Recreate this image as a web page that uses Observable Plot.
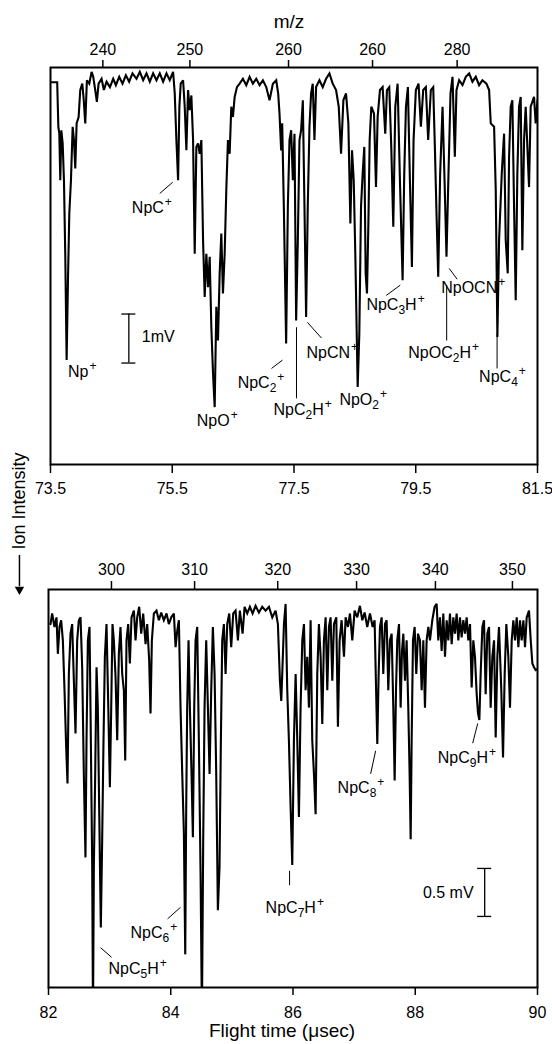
<!DOCTYPE html>
<html><head><meta charset="utf-8">
<script src="https://cdn.jsdelivr.net/npm/d3@7"></script>
<script src="https://cdn.jsdelivr.net/npm/@observablehq/plot@0.6"></script>
<style>
body{margin:0;background:#fff;}
#wrap{position:relative;width:552px;height:1044px;font-family:"Liberation Sans",Arial,Helvetica,sans-serif;background:#fff;}
.panel{position:absolute;left:0;}
#ylab{position:absolute;left:19px;top:501px;transform:translate(-50%,-50%) rotate(-90deg);font-size:18px;white-space:nowrap;color:#000;z-index:5;}
</style></head>
<body><div id="wrap"></div>
<script>
// ---------- Panel 1 (73.5 - 81.5 µs) ----------
const trace1Time = [73.52,73.61,73.629,73.645,73.661,73.678,73.700,73.721,73.743,73.765,73.787,73.809,73.836,73.864,73.885,73.907,73.929,73.962,73.989,74.022,74.044,74.071,74.098,74.137,74.175,74.202,74.235,74.262,74.290,74.339,74.377,74.421,74.476,74.530,74.574,74.629,74.683,74.738,74.792,74.847,74.913,74.967,75.022,75.077,75.131,75.186,75.241,75.295,75.350,75.405,75.459,75.514,75.541,75.568,75.596,75.617,75.639,75.678,75.705,75.732,75.760,75.787,75.814,75.842,75.869,75.896,75.924,75.951,75.978,76.006,76.033,76.060,76.088,76.115,76.142,76.170,76.197,76.224,76.251,76.279,76.306,76.333,76.361,76.388,76.415,76.443,76.470,76.497,76.525,76.563,76.607,76.661,76.716,76.771,76.825,76.880,76.935,76.989,77.044,77.098,77.153,77.208,77.240,77.262,77.289,77.306,77.333,77.371,77.399,77.426,77.453,77.481,77.508,77.535,77.563,77.590,77.617,77.645,77.672,77.699,77.726,77.754,77.781,77.808,77.836,77.863,77.918,77.972,78.027,78.082,78.136,78.191,78.235,78.273,78.311,78.355,78.393,78.426,78.453,78.481,78.508,78.546,78.573,78.601,78.628,78.655,78.677,78.699,78.721,78.743,78.770,78.814,78.847,78.874,78.912,78.956,78.999,79.027,79.065,79.098,79.131,79.164,79.202,79.240,79.284,79.311,79.339,79.371,79.404,79.437,79.464,79.502,79.546,79.584,79.623,79.666,79.704,79.748,79.787,79.814,79.841,79.869,79.901,79.940,79.973,80.005,80.038,80.071,80.104,80.142,80.169,80.213,80.268,80.322,80.377,80.431,80.486,80.541,80.595,80.661,80.705,80.732,80.787,80.814,80.841,80.869,80.913,80.951,80.978,81.011,81.033,81.060,81.087,81.115,81.142,81.169,81.197,81.224,81.251,81.279,81.306,81.361,81.388,81.443,81.470,81.50];
const trace1Signal = [0.00,0.00,0.91,1.05,2.00,0.98,1.25,2.00,3.56,5.67,4.04,2.68,2.00,0.91,1.18,1.76,0.84,0.71,0.16,0.03,0.33,0.84,-0.04,0.03,-0.21,-0.11,0.16,0.40,0.03,-0.07,0.16,-0.01,0.10,-0.07,0.06,-0.11,0.03,-0.14,-0.01,-0.18,-0.07,-0.21,-0.04,-0.18,-0.01,-0.18,-0.04,-0.18,-0.01,-0.18,-0.04,-0.21,0.23,1.18,2.00,0.50,0.03,-0.04,0.50,1.39,0.16,0.57,0.27,1.18,3.50,1.32,1.25,1.46,1.18,3.22,4.38,3.50,4.18,3.56,5.00,5.95,6.63,4.58,5.27,3.90,3.09,4.31,3.50,2.20,1.18,1.46,0.50,0.71,0.30,0.10,0.03,-0.07,0.06,-0.11,0.03,-0.07,0.06,-0.04,0.10,0.37,0.03,-0.04,0.23,0.64,1.39,0.84,2.54,5.33,2.54,1.18,0.98,2.00,1.05,4.86,3.22,1.18,0.98,0.37,2.54,4.79,2.54,0.91,0.23,0.03,1.18,0.10,-0.04,0.10,-0.07,-0.18,0.03,0.16,0.50,1.46,0.37,0.23,0.84,2.88,1.39,2.00,3.56,6.22,5.13,2.54,1.86,1.32,3.90,4.31,2.95,1.18,0.50,0.64,2.14,0.71,0.16,0.10,1.05,0.16,0.10,1.32,2.95,0.50,0.03,2.00,4.04,1.86,0.50,0.10,2.00,3.77,1.18,0.16,0.03,0.91,0.16,0.10,1.18,0.16,0.10,1.32,2.68,3.97,1.86,0.50,2.00,3.56,1.86,0.23,-0.11,1.52,0.16,-0.04,0.06,-0.11,-0.18,-0.01,-0.11,0.06,-0.04,0.03,0.16,0.84,0.91,2.20,5.20,3.22,1.86,1.05,3.22,3.90,1.52,0.50,0.37,2.54,4.45,1.86,0.50,0.30,3.43,1.18,0.50,2.14,0.50,0.30,0.84,0.37];
const flight1Ticks = [73.5, 75.5, 77.5, 79.5, 81.5];
const mz1TickTimes = [74.36, 75.79, 77.41, 78.79, 80.18];
const mz1TickLabels = ["240", "250", "260", "260", "280"];
const label1Text = ["Np^+", "NpC^+", "NpO^+", "NpC_2^+", "NpC_2H^+", "NpCN^+", "NpO_2^+", "NpC_3H^+", "NpOC_2H^+", "NpOCN^+", "NpC_4^+"];
const label1Time = [73.787, 74.836, 75.902, 76.574, 77.164, 77.705, 78.246, 78.689, 79.377, 79.918, 80.541];
const label1Signal = [5.92, 2.57, 6.90, 6.14, 6.69, 5.53, 6.49, 4.55, 5.53, 4.20, 6.02];
const leader1Time1 = [75.295, 77.131, 77.541, 77.721, 79.016, 80.008, 80.049, 80.836];
const leader1Sig1 = [2.27, 5.84, 5.00, 4.90, 4.35, 4.14, 3.80, 5.12];
const leader1Time2 = [75.508, 77.311, 77.541, 77.951, 79.246, 80.008, 80.180, 80.836];
const leader1Sig2 = [2.04, 5.67, 6.45, 5.22, 4.14, 5.27, 4.02, 5.84];
const scale1 = {time: 74.787, from: 4.73, to: 5.73, label: "1mV", labelTime: 75.0, labelSig: 5.20};

// ---------- Panel 2 (82 - 90 µs) ----------
const trace2Time = [82.033,82.060,82.098,82.131,82.153,82.180,82.207,82.235,82.262,82.289,82.311,82.333,82.360,82.387,82.415,82.442,82.469,82.496,82.524,82.551,82.578,82.605,82.622,82.644,82.671,82.687,82.715,82.728,82.742,82.764,82.786,82.807,82.829,82.856,82.878,82.900,82.922,82.949,82.976,83.004,83.026,83.047,83.069,83.097,83.124,83.151,83.178,83.206,83.233,83.255,83.276,83.304,83.331,83.358,83.397,83.424,83.451,83.484,83.517,83.549,83.588,83.615,83.647,83.669,83.691,83.724,83.767,83.806,83.844,83.887,83.931,83.969,84.008,84.051,84.079,84.106,84.133,84.160,84.188,84.215,84.237,84.253,84.269,84.291,84.313,84.340,84.362,84.384,84.406,84.433,84.460,84.488,84.510,84.531,84.553,84.580,84.608,84.635,84.662,84.689,84.717,84.744,84.771,84.798,84.820,84.842,84.869,84.897,84.924,84.957,84.989,85.022,85.060,85.099,85.131,85.175,85.208,85.251,85.295,85.339,85.388,85.442,85.497,85.552,85.606,85.661,85.715,85.753,85.786,85.808,85.824,85.852,85.879,85.906,85.933,85.961,85.988,86.015,86.043,86.070,86.097,86.124,86.152,86.179,86.206,86.233,86.261,86.288,86.315,86.343,86.370,86.397,86.424,86.452,86.479,86.506,86.534,86.561,86.588,86.615,86.643,86.670,86.708,86.735,86.763,86.795,86.834,86.861,86.899,86.932,86.970,87.008,87.052,87.095,87.134,87.172,87.215,87.259,87.303,87.335,87.357,87.379,87.401,87.423,87.450,87.477,87.505,87.532,87.559,87.586,87.614,87.641,87.663,87.685,87.706,87.734,87.761,87.783,87.805,87.832,87.859,87.886,87.908,87.925,87.941,87.963,87.990,88.017,88.045,88.077,88.105,88.132,88.159,88.186,88.214,88.241,88.279,88.317,88.350,88.377,88.405,88.432,88.459,88.487,88.514,88.541,88.568,88.596,88.623,88.650,88.677,88.705,88.732,88.759,88.787,88.814,88.841,88.868,88.896,88.923,88.950,88.977,89.005,89.027,89.049,89.070,89.098,89.125,89.152,89.179,89.207,89.234,89.261,89.289,89.316,89.343,89.370,89.408,89.436,89.463,89.490,89.523,89.550,89.578,89.605,89.632,89.660,89.687,89.714,89.741,89.769,89.796,89.823,89.861,89.889,89.916,89.943,89.970,89.998];
const trace2Signal = [0.09,-0.02,0.12,0.02,0.40,0.12,0.05,0.26,0.78,1.37,1.75,0.61,0.19,0.09,0.68,1.23,0.26,0.05,0.02,0.54,1.65,2.52,1.30,0.26,0.12,0.96,2.62,4.20,2.62,1.65,0.54,0.96,2.00,3.25,2.34,1.30,0.43,0.09,0.89,1.79,0.96,0.09,0.26,0.64,1.30,0.40,0.12,0.61,0.78,1.51,0.26,0.09,0.50,0.02,-0.05,0.26,0.02,-0.09,0.19,-0.02,0.30,0.09,0.47,1.02,0.26,-0.02,-0.05,0.05,-0.03,0.05,-0.02,0.09,0.02,-0.02,0.33,0.16,0.05,0.96,1.65,2.27,3.53,2.00,0.96,0.26,0.96,1.65,2.31,0.96,0.26,0.12,1.30,2.69,4.20,2.34,0.96,0.26,0.96,1.65,0.78,0.12,0.61,1.65,3.07,2.62,1.30,0.26,0.09,0.61,0.09,-0.02,0.33,-0.02,-0.05,0.26,-0.05,0.19,-0.09,-0.02,-0.09,-0.02,-0.10,-0.03,-0.09,-0.05,-0.09,0.02,-0.05,0.09,0.68,0.89,0.61,0.09,-0.12,0.78,1.30,2.00,2.60,1.30,0.61,1.30,2.10,0.96,0.26,0.09,0.78,0.43,0.96,0.05,1.30,1.65,2.07,0.61,0.09,0.43,1.13,0.26,0.02,0.78,0.12,0.02,0.68,0.09,0.02,1.16,0.26,0.05,0.43,0.02,0.12,-0.02,0.26,-0.05,0.02,-0.10,0.05,-0.03,0.12,-0.02,0.12,0.05,0.71,1.34,0.61,0.12,0.02,0.61,0.09,0.05,0.78,0.26,0.19,0.96,1.72,0.78,0.26,0.09,0.96,0.37,0.19,0.68,0.26,0.96,1.65,2.33,1.30,0.26,0.12,0.61,0.19,0.26,0.78,0.26,0.96,0.26,0.12,0.26,0.05,-0.09,-0.12,0.26,0.02,0.37,-0.02,0.43,0.05,0.26,-0.02,0.30,0.02,0.19,-0.02,0.26,0.02,0.23,0.05,0.19,0.02,0.26,0.09,0.75,0.26,0.43,0.82,1.02,1.09,0.61,0.12,0.05,0.82,0.19,0.12,0.96,0.43,0.26,1.27,0.43,0.12,0.78,1.48,0.61,0.09,0.43,0.96,0.26,0.05,0.26,0.02,0.33,0.05,0.26,0.05,0.33,0.02,-0.05,0.26,0.50,0.54,0.57,0.56];
const flight2Ticks = [82, 84, 86, 88, 90];
const mz2TickTimes = [83.03, 84.39, 85.75, 87.04, 88.33, 89.59];
const mz2TickLabels = ["300", "310", "320", "330", "340", "350"];
const label2Text = ["NpC_5H^+", "NpC_6^+", "NpC_7H^+", "NpC_8^+", "NpC_9H^+"];
const label2Time = [82.982, 83.342, 85.552, 86.730, 88.367];
const label2Signal = [3.68, 3.31, 3.05, 1.80, 1.48];
const leader2Time1 = [82.851, 83.948, 85.944, 87.270, 88.940];
const leader2Sig1 = [3.46, 3.16, 2.66, 1.65, 1.33];
const leader2Time2 = [83.031, 84.160, 85.944, 87.352, 89.022];
const leader2Sig2 = [3.56, 3.04, 2.81, 1.41, 1.125];
const scale2 = {time: 89.136, from: 2.635, to: 3.135, label: "0.5 mV", labelTime: 88.955, labelSig: 2.89};

const xTitle = "Flight time (\u03bcsec)";
const topTitle = "m/z";
const yTitle = "Ion Intensity";
const arrowTime = 81.525, arrowFrom = -0.625, arrowTo = -0.30, arrowHead = -0.27;

const FONT = "Liberation Sans, Arial, Helvetica, sans-serif";

function zip(ts, vs) { return ts.map((t, i) => ({t, v: vs[i]})); }
function labels(text, ts, vs) { return text.map((s, i) => ({s, t: ts[i], v: vs[i]})); }
function leaders(a, b, c, d) { return a.map((x, i) => ({x1: x, y1: b[i], x2: c[i], y2: d[i]})); }

function scaleMarks(sc, anchor) {
  const half = 0.115;
  return [
    Plot.ruleX([sc], {x: "time", y1: "from", y2: "to", stroke: "black", strokeWidth: 1.3}),
    Plot.ruleY([sc.from, sc.to], {y: d => d, x1: sc.time - half, x2: sc.time + half, stroke: "black", strokeWidth: 1.3}),
    Plot.text([sc], {x: "labelTime", y: "labelSig", text: "label", textAnchor: anchor, lineAnchor: "middle", fontSize: 16, fill: "black"})
  ];
}

function panel(opts) {
  const mzMap = new Map(opts.mzTimes.map((t, i) => [t, opts.mzLabels[i]]));
  return Plot.plot({
    width: 552, height: opts.height,
    marginLeft: opts.ml, marginRight: 15, marginTop: opts.mt, marginBottom: opts.mb,
    style: {fontFamily: FONT, fontSize: "16px", color: "black", background: "white"},
    x: {domain: opts.xdom, label: null},
    y: {domain: opts.ydom, reverse: true, axis: null, label: null},
    marks: [
      Plot.line(zip(opts.ts, opts.vs), {x: "t", y: "v", stroke: "black", strokeWidth: 2.1, strokeLinejoin: "miter", strokeMiterlimit: 3, clip: true}),
      Plot.frame({stroke: "black", strokeWidth: 2}),
      Plot.axisX(opts.flightTicks, {anchor: "bottom", tickSize: opts.bts, tickPadding: opts.bpad, tickFormat: d => String(d), fontSize: 16, strokeWidth: 1.5, label: null}),
      Plot.axisX(opts.mzTimes, {anchor: "top", tickSize: opts.tts, tickPadding: opts.tpad, tickFormat: d => mzMap.get(d), fontSize: 16, strokeWidth: 1.5, label: null}),
      Plot.link(leaders(...opts.leaders), {x1: "x1", y1: "y1", x2: "x2", y2: "y2", stroke: "black", strokeWidth: 1}),
      Plot.text(labels(...opts.labels), {x: "t", y: "v", text: "s", textAnchor: "start", lineAnchor: "middle", fontSize: 16, fill: "black"}),
      ...scaleMarks(opts.scale, opts.scaleAnchor),
      ...opts.extra
    ]
  });
}

function richify(svg) {
  const ns = "http://www.w3.org/2000/svg";
  svg.querySelectorAll("text").forEach(t => {
    const s = t.textContent;
    if (!/[_^]/.test(s)) return;
    while (t.firstChild) t.removeChild(t.firstChild);
    let i = 0, shift = 0;
    while (i < s.length) {
      const c = s[i];
      if ((c === "_" || c === "^") && i + 1 < s.length) {
        const ts = document.createElementNS(ns, "tspan");
        const target = c === "_" ? 4 : -7;
        ts.setAttribute("dy", String(target - shift));
        shift = target;
        ts.setAttribute("font-size", "12");
        if (c === "^") ts.setAttribute("dx", "1");
        ts.textContent = s[i + 1];
        t.appendChild(ts);
        i += 2;
      } else {
        let j = i;
        while (j < s.length && s[j] !== "_" && s[j] !== "^") j++;
        const ts = document.createElementNS(ns, "tspan");
        if (shift !== 0) { ts.setAttribute("dy", String(-shift)); shift = 0; }
        ts.textContent = s.slice(i, j);
        t.appendChild(ts);
        i = j;
      }
    }
  });
}

const wrap = document.getElementById("wrap");

const p1 = panel({
  height: 500, ml: 50, mt: 67, mb: 36,
  xdom: [73.5, 81.5], ydom: [-0.3, 7.8],
  ts: trace1Time, vs: trace1Signal,
  flightTicks: flight1Ticks, bts: 9, bpad: 9,
  mzTimes: mz1TickTimes, mzLabels: mz1TickLabels, tts: 8, tpad: 5,
  leaders: [leader1Time1, leader1Sig1, leader1Time2, leader1Sig2],
  labels: [label1Text, label1Time, label1Signal],
  scale: scale1, scaleAnchor: "start",
  extra: [
    Plot.text([topTitle], {frameAnchor: "top", dx: -5, dy: -46, lineAnchor: "middle", fontSize: 19, fill: "black", text: d => d})
  ]
});
const p2 = panel({
  height: 544, ml: 48, mt: 89, mb: 57,
  xdom: [82, 90], ydom: [-0.27, 3.875],
  ts: trace2Time, vs: trace2Signal,
  flightTicks: flight2Ticks, bts: 8, bpad: 11,
  mzTimes: mz2TickTimes, mzLabels: mz2TickLabels, tts: 9, tpad: 6,
  leaders: [leader2Time1, leader2Sig1, leader2Time2, leader2Sig2],
  labels: [label2Text, label2Time, label2Signal],
  scale: scale2, scaleAnchor: "end",
  extra: [
    Plot.text([xTitle], {frameAnchor: "bottom", dx: -11, dy: 43, lineAnchor: "middle", fontSize: 19, fill: "black", text: d => d}),
    Plot.ruleX([arrowTime], {x: d => d, y1: arrowFrom, y2: arrowTo, stroke: "black", strokeWidth: 1.5}),
    Plot.dot([arrowTime], {x: d => d, y: arrowHead, symbol: "triangle2", r: 4.5, fill: "black", stroke: "none", rotate: 180})
  ]
});

[p1, p2].forEach((p, k) => {
  p.classList.add("panel");
  p.style.position = "absolute";
  p.style.left = "0px";
  p.style.top = (k === 0 ? 0 : 500) + "px";
  richify(p);
  wrap.appendChild(p);
});

const yl = document.createElement("div");
yl.id = "ylab";
yl.textContent = yTitle;
wrap.appendChild(yl);
</script>
</body></html>
